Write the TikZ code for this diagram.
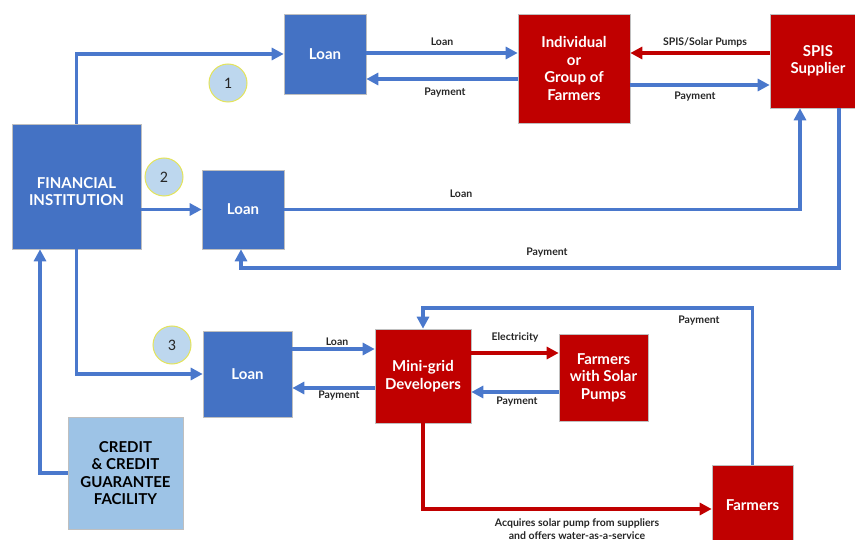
\documentclass[tikz,border=0pt]{standalone}
\usepackage{fontspec}
\setmainfont{Lato}
\newfontfamily\numfont{Carlito}
\usetikzlibrary{arrows.meta}
\definecolor{bblue}{HTML}{4472C4}
\definecolor{cblue}{HTML}{4A78CC}
\definecolor{rred}{HTML}{C00000}
\definecolor{lblue}{HTML}{9DC3E6}
\definecolor{cfill}{HTML}{BDD7EE}
\definecolor{cedge}{HTML}{E4E45A}
\definecolor{tdark}{HTML}{262626}
\tikzset{
  box/.style={draw=white!75!black, line width=0.6pt, inner sep=2pt, align=center,
    font=\fontsize{15}{17.5}\selectfont\bfseries, text=white},
  bluebox/.style={box, fill=bblue},
  redbox/.style={box, fill=rred},
  credbox/.style={box, fill=lblue, text=black},
  numc/.style={circle, minimum size=38pt, inner sep=0pt, fill=cfill, draw=cedge, line width=1pt,
    font=\numfont\fontsize{16}{16}\selectfont, text=tdark},
  bconn/.style={draw=cblue, line width=3.2pt, -{Triangle[length=12pt,width=12pt]}},
  rconn/.style={draw=rred, line width=3.2pt, -{Triangle[length=12pt,width=12pt]}},
  lbl/.style={font=\fontsize{10.5}{13}\selectfont\bfseries, text=tdark, inner sep=0pt, align=center},
}
\begin{document}
\begin{tikzpicture}[x=1pt,y=-1pt]
\useasboundingbox (0,0) rectangle (855,540);
% boxes
\node[bluebox, minimum width=129pt, minimum height=125pt] (fi) at (76.5,186.5) {\raisebox{-19pt}[0pt][0pt]{\shortstack{FINANCIAL\\[3pt]INSTITUTION}}};
\node[bluebox, minimum width=82pt, minimum height=80pt] (loan1) at (325,54) {Loan};
\node[bluebox, minimum width=82pt, minimum height=79pt] (loan2) at (243,209.5) {Loan};
\node[bluebox, minimum width=89pt, minimum height=86pt] (loan3) at (247.5,374) {Loan};
\node[redbox, minimum width=112pt, minimum height=109pt] (indiv) at (574,68.5) {Individual\\or\\Group of\\Farmers};
\node[redbox, minimum width=96pt, minimum height=94pt] (spis) at (818,61) {SPIS\\Supplier};
\node[redbox, minimum width=96pt, minimum height=94pt] (mini) at (423,376) {Mini-grid\\Developers};
\node[redbox, minimum width=89pt, minimum height=87pt] (fwsp) at (603.5,377.5) {Farmers\\with Solar\\Pumps};
\node[redbox, minimum width=81pt, minimum height=80pt] (farm) at (752.5,505) {Farmers};
\node[credbox, minimum width=115pt, minimum height=112pt] (cred) at (125.5,473) {CREDIT\\\& CREDIT\\GUARANTEE\\FACILITY};
% numbered circles
\node[numc] (n1) at (228,83) {1};
\node[numc] (n2) at (164,177) {2};
\node[numc] (n3) at (172,345) {3};
% route coordinates
\coordinate (p2a) at (800,209.5);
\coordinate (p2b) at (839,268);
\coordinate (p2c) at (241,268);
\coordinate (pmb) at (423,308);
\coordinate (pcr) at (40,473);
% connectors: option 1
\draw[bconn] (fi.north) |- (loan1.west);
\draw[bconn] (loan1.east |- 0,53) -- (indiv.west |- 0,53);
\draw[bconn] (indiv.west |- 0,79) -- (loan1.east |- 0,79);
\draw[rconn] (spis.west |- 0,53) -- (indiv.east |- 0,53);
\draw[bconn] (indiv.east |- 0,85) -- (spis.west |- 0,85);
% option 2
\draw[bconn] (fi.east |- loan2.west) -- (loan2.west);
\draw[bconn] (loan2.east) -| (spis.south -| p2a);
\draw[bconn] (spis.south -| p2b) |- (p2c) -- (loan2.south -| p2c);
% option 3
\draw[bconn] (fi.south) |- (loan3.west);
\draw[bconn] (cred.west) -- (pcr) -- (fi.south -| pcr);
\draw[bconn] (loan3.east |- 0,349) -- (mini.west |- 0,349);
\draw[bconn] (mini.west |- 0,388) -- (loan3.east |- 0,388);
\draw[rconn] (mini.east |- 0,353) -- (fwsp.west |- 0,353);
\draw[bconn] (fwsp.west |- 0,392) -- (mini.east |- 0,392);
\draw[bconn] (farm.north) |- (pmb) -- (mini.north);
\draw[rconn] (mini.south) |- (farm.west |- 0,509);
% labels
\node[lbl] (l1) at (442,42) {Loan};
\node[lbl] (l2) at (445,93) {Payment};
\node[lbl] (l3) at (705,42) {SPIS/Solar Pumps};
\node[lbl] (l4) at (695,97) {Payment};
\node[lbl] (l5) at (461,194) {Loan};
\node[lbl] (l6) at (547,253) {Payment};
\node[lbl] (l7) at (337,342) {Loan};
\node[lbl] (l8) at (339,396) {Payment};
\node[lbl] (l9) at (515,337) {Electricity};
\node[lbl] (l10) at (517,402) {Payment};
\node[lbl] (l11) at (699,321) {Payment};
\node[lbl, anchor=north] (l12) at (577,518) {Acquires solar pump from suppliers\\and offers water-as-a-service};
\end{tikzpicture}
\end{document}
